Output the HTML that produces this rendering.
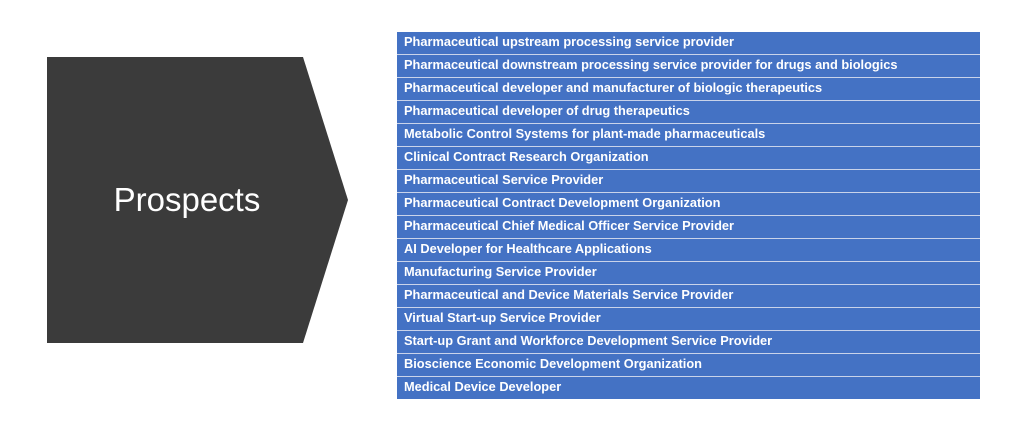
<!DOCTYPE html>
<html><head><style>
body{margin:0;width:1024px;height:422px;background:#fff;overflow:hidden;position:relative;font-family:"Liberation Sans",sans-serif}
.list{position:absolute;left:397px;top:32px;width:583px}
.row{height:22px;border-bottom:1px solid #c9d3ea;background:#4472c4;color:#fff;font-weight:bold;font-size:12.8px;line-height:20px;padding-left:7px;white-space:nowrap}
</style></head><body>
<svg width="1024" height="422" style="position:absolute;left:0;top:0">
<polygon points="47,57 303,57 348,200 303,343 47,343" fill="#3b3b3b"/>
<text x="187" y="211" fill="#fff" font-size="33" text-anchor="middle" font-family="Liberation Sans, sans-serif">Prospects</text>
</svg>
<div class="list">
<div class="row">Pharmaceutical upstream processing service provider</div>
<div class="row">Pharmaceutical downstream processing service provider for drugs and biologics</div>
<div class="row">Pharmaceutical developer and manufacturer of biologic therapeutics</div>
<div class="row">Pharmaceutical developer of drug therapeutics</div>
<div class="row">Metabolic Control Systems for plant-made pharmaceuticals</div>
<div class="row">Clinical Contract Research Organization</div>
<div class="row">Pharmaceutical Service Provider</div>
<div class="row">Pharmaceutical Contract Development Organization</div>
<div class="row">Pharmaceutical Chief Medical Officer Service Provider</div>
<div class="row">AI Developer for Healthcare Applications</div>
<div class="row">Manufacturing Service Provider</div>
<div class="row">Pharmaceutical and Device Materials Service Provider</div>
<div class="row">Virtual Start-up Service Provider</div>
<div class="row">Start-up Grant and Workforce Development Service Provider</div>
<div class="row">Bioscience Economic Development Organization</div>
<div class="row" style="border-bottom:none">Medical Device Developer</div>
</div>
</body></html>
